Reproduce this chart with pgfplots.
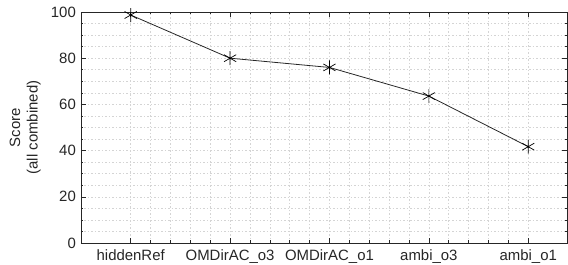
\documentclass[border=0pt]{standalone}
\usepackage{fontspec}
\setmainfont{Liberation Sans}
\usepackage{pgfplots}
\pgfplotsset{compat=1.18}
\usetikzlibrary{calc}
\definecolor{txt}{HTML}{262626}
\definecolor{gridc}{HTML}{D4D4D4}
\definecolor{axc}{HTML}{262626}
\begin{document}
\fontsize{15}{17.5}\selectfont
\begin{tikzpicture}
\begin{axis}[
  scale only axis,
  width=486bp, height=231bp,
  xmin=0.5, xmax=5.39, ymin=0, ymax=100,
  xtick={1,2,3,4,5},
  xticklabels={hiddenRef,OMDirAC\_o3,OMDirAC\_o1,ambi\_o3,ambi\_o1},
  ytick={0,20,40,60,80,100},
  minor x tick num=4,
  minor y tick num=3,
  grid=both,
  major grid style={gridc, dash pattern=on 1.5bp off 2bp, line width=0.5pt},
  minor grid style={gridc, dash pattern=on 1.5bp off 2bp, line width=0.5pt},
  tick align=inside,
  major tick length=5bp,
  minor tick length=2.5bp,
  tick style={axc, line width=0.6pt},
  axis line style={axc, line width=0.7pt},
  tick label style={font=\fontsize{15}{17.5}\selectfont, text=txt},
  /pgf/number format/assume math mode=true,
  ylabel={Score\\(all combined)},
  ylabel style={align=center, font=\fontsize{15}{17.5}\selectfont, text=txt},
  xticklabel style={yshift=-1bp},
]
\addplot[color=txt, line width=0.8pt, mark=asterisk, mark size=7bp, mark options={solid, black, line width=0.7pt}]
coordinates {(1,98.7) (2,80.0) (3,76.0) (4,63.6) (5,41.7)};
\end{axis}
\pgfresetboundingbox
\path[use as bounding box] ($(current axis.south west)+(-81bp,-22bp)$) rectangle ($(current axis.north east)+(1bp,12bp)$);
\end{tikzpicture}
\end{document}
